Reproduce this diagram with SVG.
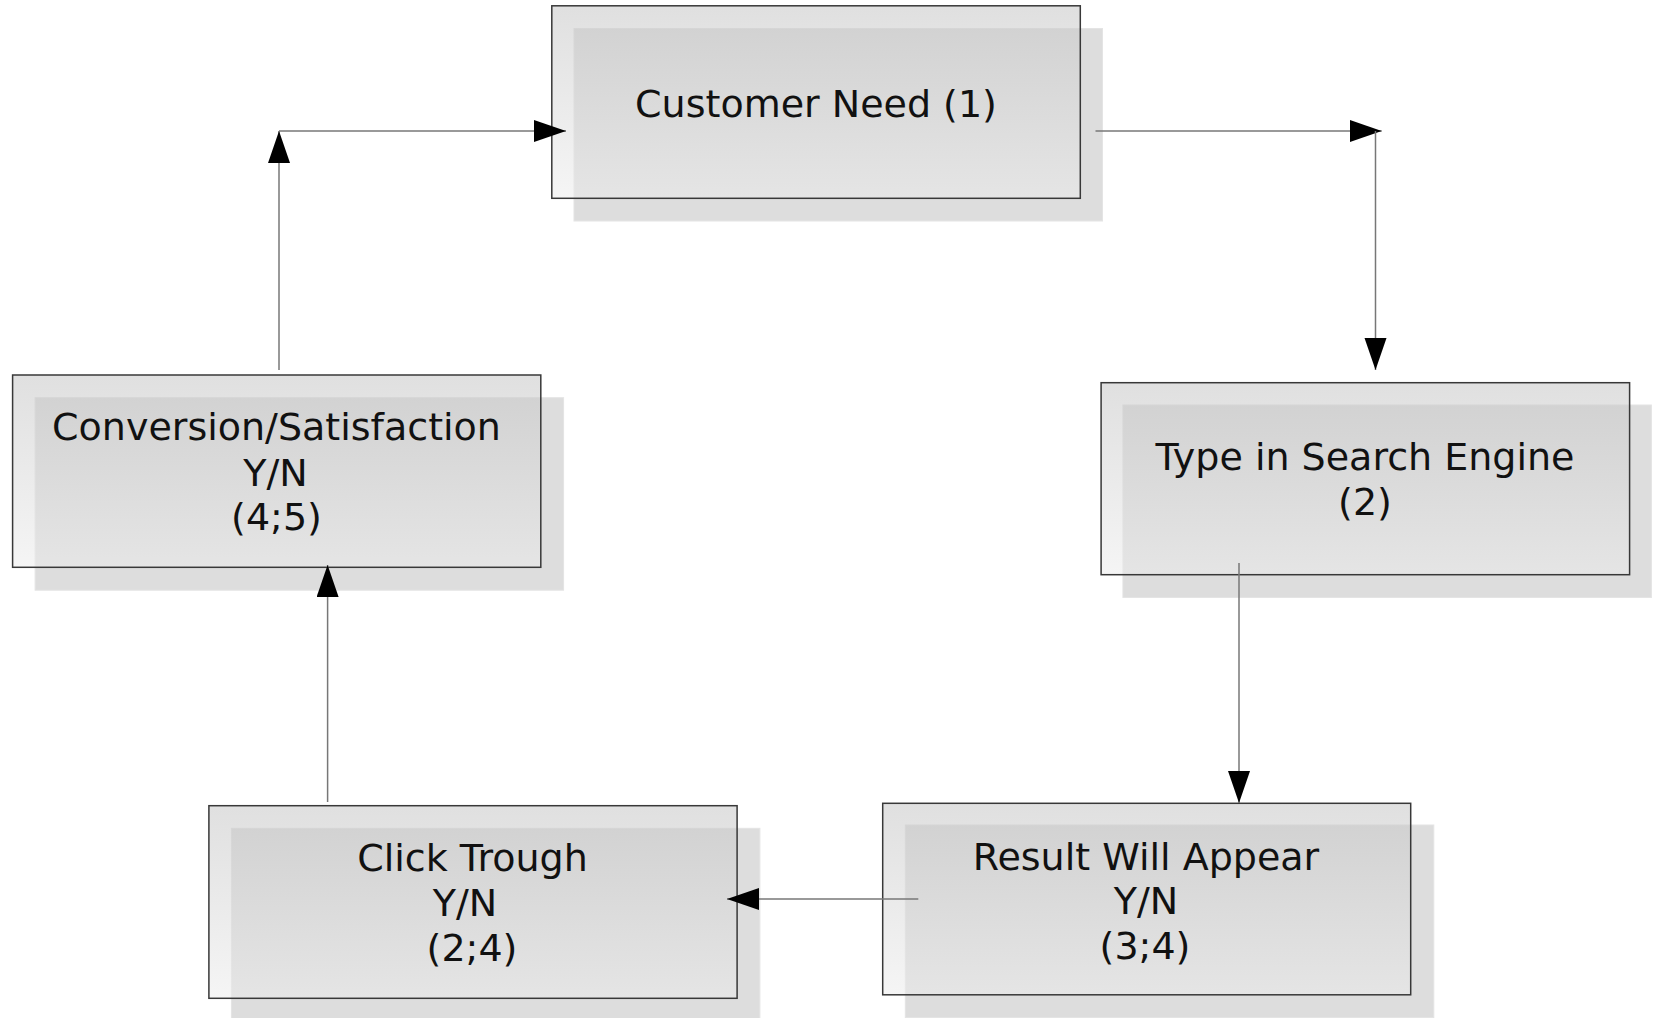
<svg xmlns="http://www.w3.org/2000/svg" width="1653" height="1018" viewBox="0 0 1653 1018">
<defs>
<linearGradient id="g" x1="0" y1="0" x2="0" y2="1">
<stop offset="0" stop-color="#c4c4c4" stop-opacity="0.53"/>
<stop offset="1" stop-color="#ececec" stop-opacity="0.53"/>
</linearGradient>
<marker id="ah" markerUnits="userSpaceOnUse" markerWidth="34" markerHeight="24" viewBox="0 0 34 24" refX="32" refY="11" orient="auto">
<path d="M0,0 L32,11 L0,22 Z" fill="#000"/>
</marker>
<style>
.sh{fill:#dddddd;stroke:#e4e4e4;stroke-width:1}
.bx{fill:url(#g);stroke:#383838;stroke-width:1.5}
.t{font-family:"DejaVu Sans",Verdana,sans-serif;font-size:38px;fill:#111;text-anchor:middle}
.c{fill:none;stroke:#777;stroke-width:1.5;marker-end:url(#ah)}
</style>
</defs>
<rect width="1653" height="1018" fill="#fff"/>
<g id="customer-need">
<rect class="sh" x="574" y="28.5" width="528.5" height="192.5"/>
<rect class="bx" x="551.8" y="5.8" width="528.5" height="192.5"/>
<text class="t" x="816" y="117.3">Customer Need (1)</text>
</g>
<g id="type-in-search-engine">
<rect class="sh" x="1122.9" y="405" width="528.5" height="192.5"/>
<rect class="bx" x="1101.1" y="382.7" width="528.5" height="192"/>
<text class="t" x="1365" y="470">Type in Search Engine</text>
<text class="t" x="1365" y="514.5">(2)</text>
</g>
<g id="result-will-appear">
<rect class="sh" x="905.3" y="825" width="528.5" height="192.5"/>
<rect class="bx" x="882.7" y="803.3" width="528" height="191.5"/>
<text class="t" x="1146" y="869.5">Result Will Appear</text>
<text class="t" x="1146" y="914">Y/N</text>
<text class="t" x="1145" y="958.5">(3;4)</text>
</g>
<g id="click-trough">
<rect class="sh" x="231.4" y="828.3" width="528.5" height="192.5"/>
<rect class="bx" x="208.9" y="805.7" width="528.2" height="192.6"/>
<text class="t" x="472.5" y="870.7">Click Trough</text>
<text class="t" x="465" y="916">Y/N</text>
<text class="t" x="472" y="961">(2;4)</text>
</g>
<g id="conversion-satisfaction">
<rect class="sh" x="35.1" y="397.7" width="528.5" height="192.5"/>
<rect class="bx" x="12.6" y="375" width="528.2" height="192.3"/>
<text class="t" x="276.5" y="440">Conversion/Satisfaction</text>
<text class="t" x="275.5" y="485.5">Y/N</text>
<text class="t" x="276.5" y="530">(4;5)</text>
</g>
<g id="connectors">
<line class="c" x1="1095.5" y1="131" x2="1381.7" y2="131"/>
<line class="c" x1="1375.5" y1="131" x2="1375.5" y2="370"/>
<line class="c" x1="1239" y1="563" x2="1239" y2="803"/>
<line class="c" x1="918.3" y1="899" x2="727" y2="899"/>
<line class="c" x1="327.6" y1="802" x2="327.6" y2="565"/>
<line class="c" x1="279" y1="370" x2="279" y2="131"/>
<line class="c" x1="279" y1="131" x2="566" y2="131"/>
</g>
</svg>
